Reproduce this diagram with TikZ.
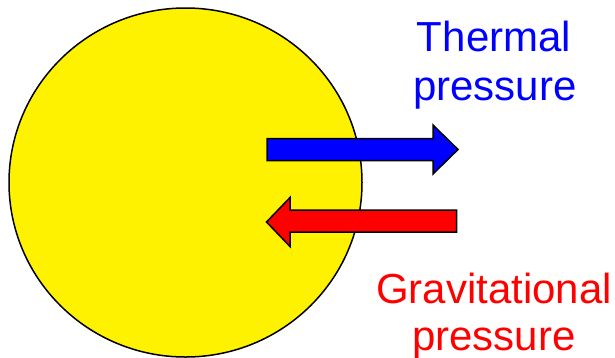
\documentclass[tikz,border=0pt]{standalone}
\usepackage{fontspec}
\setmainfont{Liberation Sans}
\begin{document}
\begin{tikzpicture}[x=1pt,y=-1pt,
  outline/.style={draw=black,line width=1.5pt,line join=miter},
  lbl/.style={anchor=base,inner sep=0pt,font=\fontsize{42}{48}\selectfont}]
\useasboundingbox (0,0) rectangle (615,357);
\draw[outline,fill=yellow] (185.5,182.5) ellipse [x radius=176.5,y radius=174.5];
\draw[outline,fill=blue] (267,138.5) -- (433,138.5) -- (433,125) -- (458,149.5) -- (433,174) -- (433,160.5) -- (267,160.5) -- cycle;
\draw[outline,fill=red] (456.5,210) -- (290,210) -- (290,197.5) -- (266.5,222) -- (290,246.5) -- (290,232) -- (456.5,232) -- cycle;
\node[lbl,text=blue] (t1) at (494,51.7) {Thermal};
\node[lbl,text=blue] (t2) at (495,100) {pressure};
\node[lbl,text=red] (g1) at (494,303.3) {Gravitational};
\node[lbl,text=red] (g2) at (494,350) {pressure};
\end{tikzpicture}
\end{document}
